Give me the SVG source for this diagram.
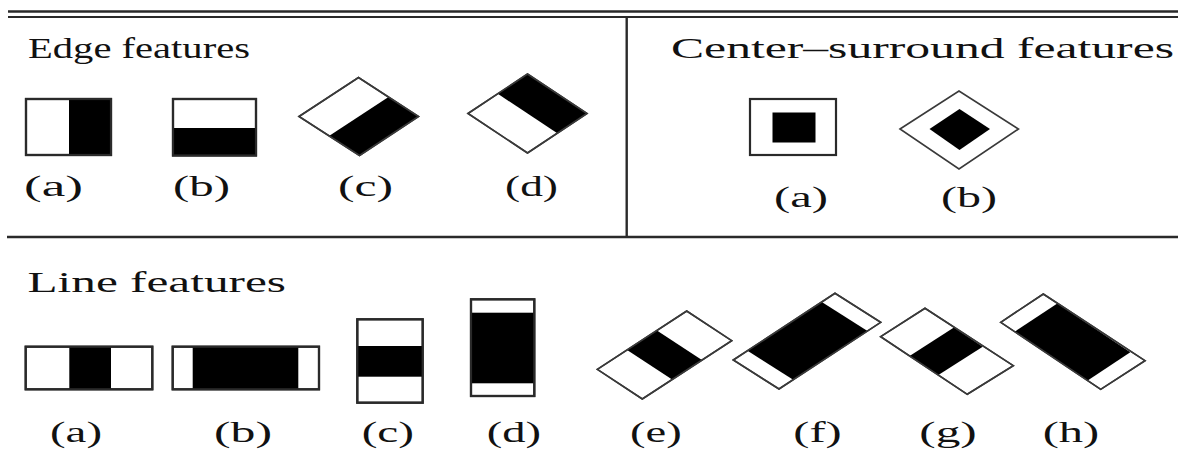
<svg xmlns="http://www.w3.org/2000/svg" width="1178" height="468" viewBox="0 0 1178 468">
<style>
.rule{stroke:#2a2a2a;fill:none}
.box{fill:#fff;stroke:#2a2a2a;stroke-width:2.2}
.dia{fill:#fff;stroke:#3a3a3a;stroke-width:1.6;stroke-linejoin:miter}
.blk{fill:#000;stroke:none}
.ol{fill:none;stroke:#2a2a2a;stroke-width:2.2}
.dol{fill:none;stroke:#3a3a3a;stroke-width:1.6}
.hd{font-family:"Liberation Serif","Times New Roman",serif;font-size:30px;fill:#111}
.lb{font-family:"Liberation Serif","Times New Roman",serif;font-size:29px;fill:#111}
</style>
<rect width="1178" height="468" fill="#fff"/>
<g id="frame">
<line class="rule" x1="8" y1="11.5" x2="1178" y2="11.5" stroke-width="2.6"/>
<line class="rule" x1="8" y1="17" x2="1178" y2="17" stroke-width="2.2"/>
<line class="rule" x1="7" y1="237" x2="1178" y2="237" stroke-width="2.6"/>
<line class="rule" x1="626.7" y1="17" x2="626.7" y2="237" stroke-width="2.4"/>
</g>
<g id="headings">
<text class="hd" x="28" y="58" textLength="222" lengthAdjust="spacingAndGlyphs">Edge features</text>
<text class="hd" x="671" y="58" textLength="503" lengthAdjust="spacingAndGlyphs">Center–surround features</text>
<text class="hd" x="27.5" y="291.5" textLength="258.5" lengthAdjust="spacingAndGlyphs">Line features</text>
</g>
<g id="edge-a">
<rect class="box" x="26" y="99" width="85" height="56"/>
<rect class="blk" x="69" y="99" width="42" height="56"/>
<rect class="ol" x="26" y="99" width="85" height="56"/>
<text class="lb" x="24" y="196" textLength="59" lengthAdjust="spacingAndGlyphs">(a)</text>
</g>
<g id="edge-b">
<rect class="box" x="173" y="99" width="83" height="56.5"/>
<rect class="blk" x="173" y="128" width="83" height="27.5"/>
<rect class="ol" x="173" y="99" width="83" height="56.5"/>
<text class="lb" x="173" y="196" textLength="57" lengthAdjust="spacingAndGlyphs">(b)</text>
</g>
<g id="edge-c">
<polygon class="dia" points="299,116.5 358.5,77.5 418.5,116.5 359.5,155.5"/>
<polygon class="blk" points="329,136 388.5,97 418.5,116.5 359.5,155.5"/>
<polygon class="dol" points="299,116.5 358.5,77.5 418.5,116.5 359.5,155.5"/>
<text class="lb" x="338" y="196" textLength="55" lengthAdjust="spacingAndGlyphs">(c)</text>
</g>
<g id="edge-d">
<polygon class="dia" points="468,113.5 527.5,74 587,113.5 527.5,153"/>
<polygon class="blk" points="527.5,74 587,113.5 557.3,133.3 497.8,93.8"/>
<polygon class="dol" points="468,113.5 527.5,74 587,113.5 527.5,153"/>
<text class="lb" x="505" y="196" textLength="53" lengthAdjust="spacingAndGlyphs">(d)</text>
</g>
<g id="center-a">
<rect class="box" x="750" y="99" width="86" height="56"/>
<rect class="blk" x="772.5" y="112.5" width="43" height="30"/>
<text class="lb" x="774" y="207" textLength="54" lengthAdjust="spacingAndGlyphs">(a)</text>
</g>
<g id="center-b">
<polygon class="dia" points="900,129 959,91 1018.5,129 959,169"/>
<polygon class="blk" points="929.5,129 959.5,109 990,129 959.5,150"/>
<text class="lb" x="941" y="207" textLength="56" lengthAdjust="spacingAndGlyphs">(b)</text>
</g>
<g id="line-a">
<rect class="box" x="25.7" y="346.7" width="126.6" height="42.6"/>
<rect class="blk" x="69.3" y="346.7" width="41.7" height="42.6"/>
<rect class="ol" x="25.7" y="346.7" width="126.6" height="42.6"/>
<text class="lb" x="50" y="442" textLength="52" lengthAdjust="spacingAndGlyphs">(a)</text>
</g>
<g id="line-b">
<rect class="box" x="172.7" y="346.7" width="146.3" height="42.6"/>
<rect class="blk" x="192.7" y="346.7" width="105.6" height="42.6"/>
<rect class="ol" x="172.7" y="346.7" width="146.3" height="42.6"/>
<text class="lb" x="214" y="442" textLength="58" lengthAdjust="spacingAndGlyphs">(b)</text>
</g>
<g id="line-c">
<rect class="box" x="357.3" y="319.3" width="65.4" height="83.4"/>
<rect class="blk" x="357.3" y="346" width="65.4" height="30.7"/>
<rect class="ol" x="357.3" y="319.3" width="65.4" height="83.4"/>
<text class="lb" x="361.7" y="442" textLength="52.3" lengthAdjust="spacingAndGlyphs">(c)</text>
</g>
<g id="line-d">
<rect class="box" x="471" y="299.3" width="63.3" height="96.7"/>
<rect class="blk" x="471" y="312.7" width="63.3" height="70.6"/>
<rect class="ol" x="471" y="299.3" width="63.3" height="96.7"/>
<text class="lb" x="486.7" y="442" textLength="54.3" lengthAdjust="spacingAndGlyphs">(d)</text>
</g>
<g id="line-e">
<polygon class="dia" points="597.3,369.3 686.7,311 731.7,340.7 642.3,399"/>
<polygon class="blk" points="627.1,349.9 656.9,330.4 701.9,360.1 672.1,379.6"/>
<polygon class="dol" points="597.3,369.3 686.7,311 731.7,340.7 642.3,399"/>
<text class="lb" x="630" y="442" textLength="51.7" lengthAdjust="spacingAndGlyphs">(e)</text>
</g>
<g id="line-f">
<polygon class="dia" points="733.3,360 835,293.3 880.7,322.3 779,389"/>
<polygon class="blk" points="747.5,350.7 821.8,302 867.5,331 793.2,379.7"/>
<polygon class="dol" points="733.3,360 835,293.3 880.7,322.3 779,389"/>
<text class="lb" x="793.3" y="442" textLength="48.4" lengthAdjust="spacingAndGlyphs">(f)</text>
</g>
<g id="line-g">
<polygon class="dia" points="880.7,336.7 925,308.3 1013.3,365.7 967.3,394.3"/>
<polygon class="blk" points="909.6,355.9 953.9,327.5 982.7,346.7 938.4,375.1"/>
<polygon class="dol" points="880.7,336.7 925,308.3 1013.3,365.7 967.3,394.3"/>
<text class="lb" x="919.3" y="442" textLength="57.4" lengthAdjust="spacingAndGlyphs">(g)</text>
</g>
<g id="line-h">
<polygon class="dia" points="1000.7,322.3 1043.3,294 1145,360.7 1100.7,389.3"/>
<polygon class="blk" points="1014.7,331.7 1057.3,303.4 1130.3,352.3 1087.7,380.6"/>
<polygon class="dol" points="1000.7,322.3 1043.3,294 1145,360.7 1100.7,389.3"/>
<text class="lb" x="1042.7" y="442" textLength="56.6" lengthAdjust="spacingAndGlyphs">(h)</text>
</g>
</svg>
